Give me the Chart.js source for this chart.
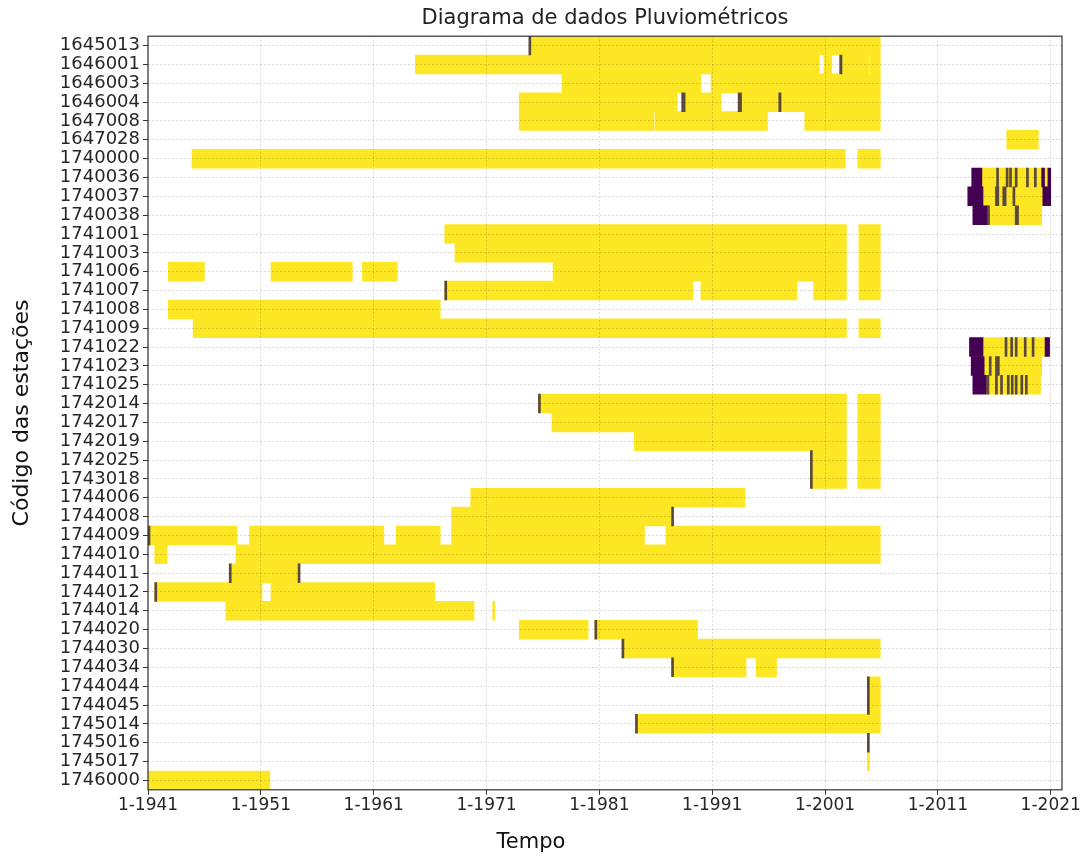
<!DOCTYPE html>
<html>
<head>
<meta charset="utf-8">
<script src="https://cdn.jsdelivr.net/npm/chart.js@4.4.1/dist/chart.umd.min.js"></script>
<style>
  html, body { margin: 0; padding: 0; background: #fff; }
  #wrap { width: 1086px; height: 857px; }
</style>
</head>
<body>
<div id="wrap"><canvas id="chart" width="1086" height="857"></canvas></div>
<script>
'use strict';

const stations = ['1645013','1646001','1646003','1646004','1647008','1647028','1740000','1740036','1740037','1740038',
  '1741001','1741003','1741006','1741007','1741008','1741009','1741022','1741023','1741025','1742014',
  '1742017','1742019','1742025','1743018','1744006','1744008','1744009','1744010','1744011','1744012',
  '1744014','1744020','1744030','1744034','1744044','1744045','1745014','1745016','1745017','1746000'];

// periods with data (decimal years), one list per station
const present = [
  [[1974.8, 2005.9]],
  [[1964.7, 2000.5], [2000.9, 2001.6], [2002.3, 2004.9], [2005.0, 2005.9]],
  [[1977.7, 1990.0], [1990.9, 2005.9]],
  [[1973.9, 1987.9], [1988.3, 1991.8], [1993.3, 2005.9]],
  [[1973.9, 1985.85], [1985.95, 1995.9], [1999.2, 2005.9]],
  [[2017.1, 2019.9]],
  [[1944.9, 2002.8], [2003.9, 2005.9]],
  [[2014.9, 2021.0]],
  [[2015.0, 2020.3]],
  [[2015.4, 2020.2]],
  [[1967.3, 2002.9], [2004.0, 2005.9]],
  [[1968.2, 2002.9], [2004.0, 2005.9]],
  [[1942.8, 1946.0], [1951.9, 1959.1], [1960.0, 1963.1], [1976.9, 2002.9], [2004.0, 2005.9]],
  [[1967.3, 1989.3], [1990.0, 1998.5], [2000.0, 2002.9], [2004.0, 2005.9]],
  [[1942.8, 1966.9]],
  [[1945.0, 2002.9], [2004.0, 2005.9]],
  [[2015.0, 2020.9]],
  [[2015.1, 2020.2]],
  [[2015.3, 2020.1]],
  [[1975.6, 2002.9], [2003.9, 2005.9]],
  [[1976.8, 2002.9], [2003.9, 2005.9]],
  [[1984.1, 2002.9], [2003.9, 2005.9]],
  [[1999.7, 2002.9], [2003.9, 2005.9]],
  [[1999.7, 2002.9], [2003.9, 2005.9]],
  [[1969.6, 1993.9]],
  [[1967.9, 1987.5]],
  [[1941.0, 1948.9], [1950.0, 1961.9], [1963.0, 1966.9], [1967.9, 1985.0], [1986.9, 2005.9]],
  [[1941.6, 1942.7], [1948.8, 2005.9]],
  [[1948.2, 1954.4]],
  [[1941.6, 1951.1], [1951.9, 1966.4]],
  [[1947.9, 1969.9], [1971.55, 1971.7]],
  [[1973.9, 1980.0], [1980.6, 1989.7]],
  [[1983.0, 2005.9]],
  [[1987.4, 1994.0], [1994.9, 1996.7]],
  [[2004.8, 2005.9]],
  [[2004.8, 2005.9]],
  [[1984.2, 2005.9]],
  [],
  [[2004.75, 2004.9]],
  [[1941.0, 1951.8]]
];

// wide missing blocks: station, start, end
const gaps = [
  ['1740036', 2014.0, 2014.9], ['1740036', 2020.2, 2020.45], ['1740036', 2020.75, 2021.0],
  ['1740037', 2013.65, 2015.0], ['1740037', 2020.3, 2021.0],
  ['1740038', 2014.1, 2015.4],
  ['1741022', 2013.8, 2015.0], ['1741022', 2020.5, 2020.9],
  ['1741023', 2013.95, 2015.1],
  ['1741025', 2014.1, 2015.3]
];

// thin missing marks: station, start, end
const marks = [
  ['1645013', 1974.75, 1974.9],
  ['1646001', 2002.3, 2002.5],
  ['1646004', 1988.3, 1988.6], ['1646004', 1993.3, 1993.6], ['1646004', 1996.9, 1997.1],
  ['1740036', 2016.2, 2016.35], ['1740036', 2017.05, 2017.2], ['1740036', 2017.35, 2017.5],
  ['1740036', 2017.85, 2018.0], ['1740036', 2018.85, 2019.0], ['1740036', 2019.55, 2019.7],
  ['1740037', 2016.1, 2016.4], ['1740037', 2016.75, 2017.05], ['1740037', 2017.65, 2017.8],
  ['1740038', 2015.4, 2015.55], ['1740038', 2017.85, 2018.15],
  ['1741007', 1967.3, 1967.45],
  ['1741022', 2016.95, 2017.1], ['1741022', 2017.45, 2017.6], ['1741022', 2017.85, 2018.0],
  ['1741022', 2018.65, 2018.8], ['1741022', 2019.35, 2019.5],
  ['1741023', 2015.55, 2015.7], ['1741023', 2016.1, 2016.45],
  ['1741025', 2015.35, 2015.5], ['1741025', 2016.1, 2016.25], ['1741025', 2016.55, 2016.7],
  ['1741025', 2017.15, 2017.3], ['1741025', 2017.5, 2017.65], ['1741025', 2017.85, 2018.0],
  ['1741025', 2018.35, 2018.5], ['1741025', 2018.75, 2018.9],
  ['1742014', 1975.6, 1975.75],
  ['1742025', 1999.7, 1999.85], ['1743018', 1999.7, 1999.85],
  ['1744008', 1987.4, 1987.55],
  ['1744009', 1941.0, 1941.15],
  ['1744011', 1948.2, 1948.35], ['1744011', 1954.3, 1954.45],
  ['1744012', 1941.6, 1941.75],
  ['1744020', 1980.6, 1980.75],
  ['1744030', 1983.0, 1983.15],
  ['1744034', 1987.4, 1987.55],
  ['1744044', 2004.75, 2004.9], ['1744045', 2004.75, 2004.9],
  ['1745014', 1984.2, 1984.35],
  ['1745016', 2004.75, 2004.9]
];

const xTicks = [1941, 1951, 1961, 1971, 1981, 1991, 2001, 2011, 2021];

function byStation(list) {
  const out = stations.map(() => []);
  list.forEach(([st, a, b]) => out[stations.indexOf(st)].push([a, b]));
  return out;
}

function layers(rows, color, order) {
  const n = Math.max(...rows.map(r => r.length));
  const sets = [];
  for (let k = 0; k < n; k++) {
    sets.push({
      data: rows.map(r => r[k] || null),
      backgroundColor: color,
      borderWidth: 0,
      borderSkipped: false,
      barPercentage: 1,
      categoryPercentage: 1,
      grouped: false,
      minBarLength: 2,
      order: order
    });
  }
  return sets;
}

const frame = {
  id: 'frame',
  afterDraw(chart) {
    const {ctx, chartArea: a} = chart;
    ctx.save();
    ctx.strokeStyle = '#333';
    ctx.lineWidth = 1.2;
    ctx.strokeRect(a.left, a.top, a.right - a.left, a.bottom - a.top);
    ctx.restore();
  }
};

Chart.defaults.font.family = 'DejaVu Sans';
Chart.defaults.color = '#262626';

const gridStyle = { color: 'rgba(0,0,0,0.15)', lineWidth: 1, z: 1, tickColor: '#333', tickLength: 5 };

new Chart(document.getElementById('chart').getContext('2d'), {
  type: 'bar',
  data: {
    labels: stations,
    datasets: [
      ...layers(present, '#FDE725', 3),
      ...layers(byStation(gaps), '#440154', 2),
      ...layers(byStation(marks), '#5b4a3c', 1)
    ]
  },
  options: {
    indexAxis: 'y',
    responsive: false,
    animation: false,
    layout: { padding: { left: 0, right: 24, top: 0, bottom: 0 } },
    plugins: {
      legend: { display: false },
      tooltip: { enabled: false },
      title: {
        display: true,
        text: 'Diagrama de dados Pluviométricos',
        fullSize: false,
        font: { size: 21, weight: 'normal' },
        color: '#222',
        padding: { top: 6, bottom: 5 }
      },
      subtitle: {
        display: true,
        text: 'Tempo',
        position: 'bottom',
        font: { size: 21, weight: 'normal' },
        color: '#111',
        padding: { top: 9, bottom: 2 }
      }
    },
    scales: {
      x: {
        type: 'linear',
        min: 1941,
        max: 2022,
        afterBuildTicks: s => { s.ticks = xTicks.map(v => ({ value: v })); },
        afterFit: s => { s.height = 31; },
        ticks: { autoSkip: false, maxRotation: 0, padding: 1, font: { size: 17 },
                 callback: v => '1-' + v },
        grid: gridStyle,
        border: { display: false, dash: [2, 2] }
      },
      y: {
        type: 'category',
        afterFit: s => { s.width = 148; },
        ticks: { autoSkip: false, padding: 3, font: { size: 18, lineHeight: 1 } },
        grid: Object.assign({ offset: false }, gridStyle),
        border: { display: false, dash: [2, 2] },
        title: { display: true, text: 'Código das estações', font: { size: 22 }, color: '#111',
                 padding: { top: 9, bottom: 4 } }
      }
    }
  },
  plugins: [frame]
});
</script>
</body>
</html>
